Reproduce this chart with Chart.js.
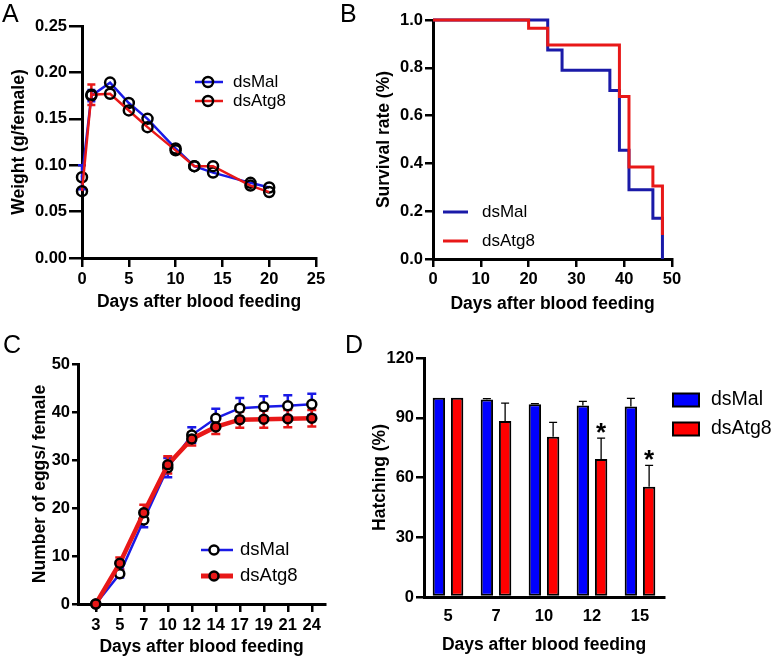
<!DOCTYPE html>
<html><head><meta charset="utf-8">
<script src="https://cdn.jsdelivr.net/npm/chart.js@4.4.0/dist/chart.umd.min.js"></script>
<style>
html,body{margin:0;padding:0;background:#fff;}
#wrap{position:relative;width:772px;height:660px;overflow:hidden;background:#fff;}
canvas{position:absolute;left:0;top:0;}
</style></head><body>
<div id="wrap">
<canvas id="cA" width="772" height="660"></canvas>
<canvas id="cB" width="772" height="660"></canvas>
<canvas id="cC" width="772" height="660"></canvas>
<canvas id="cD" width="772" height="660"></canvas>
</div>
<script>
// ---------- DATA ----------
const seriesNames = ['dsMal', 'dsAtg8'];
// Panel A: weight
const weightDays = [0, 1, 3, 5, 7, 10, 12, 14, 18, 20];
const weightMal = [0.087, 0.175, 0.189, 0.167, 0.150, 0.118, 0.099, 0.092, 0.081, 0.076];
const weightMalErr = [0.013, 0.006, 0, 0, 0, 0, 0, 0, 0, 0];
const weightAtg8 = [0.072, 0.176, 0.177, 0.159, 0.141, 0.116, 0.099, 0.099, 0.078, 0.071];
const weightAtg8Err = [0, 0.011, 0, 0, 0, 0, 0, 0, 0, 0];
// Panel B: survival
const survMalDays = [0, 24, 27, 37, 39, 41, 46, 48];
const survMal = [1.0, 0.875, 0.79, 0.705, 0.455, 0.29, 0.17, 0.0];
const survAtg8Days = [0, 20, 24, 39, 41, 46, 48];
const survAtg8 = [1.0, 0.965, 0.895, 0.68, 0.385, 0.305, 0.10];
// Panel C: eggs
const eggDays = ['3', '5', '7', '10', '12', '14', '17', '19', '21', '24'];
const eggMal = [0, 6.3, 17.5, 28.4, 35.2, 38.7, 40.8, 41.1, 41.3, 41.6];
const eggMalErr = [0, 0.8, 1.5, 2.0, 1.6, 2.0, 2.1, 2.2, 2.2, 2.2];
const eggAtg8 = [0, 8.5, 19.0, 29.0, 34.4, 36.9, 38.4, 38.5, 38.6, 38.7];
const eggAtg8Err = [0, 1.2, 1.7, 1.8, 1.4, 1.5, 1.7, 1.8, 1.8, 1.7];
// Panel D: hatching
const hatchDays = ['5', '7', '10', '12', '15'];
const hatchMal = [100, 99.2, 96.8, 96.2, 95.6];
const hatchMalErr = [0, 0.4, 0.3, 2.0, 4.1];
const hatchAtg8 = [100, 88.4, 80.5, 69.3, 55.4];
const hatchAtg8Err = [0, 8.9, 7.2, 10.5, 10.7];
const hatchSig = ['', '', '', '*', '*'];

// ---------- STYLE ----------
const FONT = "'Liberation Sans', Arial, Helvetica, sans-serif";
const BLUE = '#1a1ae6', RED = '#e81818', NAVY = '#1a1aa8';
const TICK_SIZE = 16.5, TITLE_SIZE = 17.5;
Chart.defaults.font.family = FONT;
Chart.defaults.color = '#000';
Chart.defaults.animation = false;
Chart.defaults.plugins.legend.display = false;
Chart.defaults.plugins.tooltip.enabled = false;

// ---------- PLUGINS ----------
function drawErr(chart, opts) {
  const ctx = chart.ctx, ys = chart.scales.y;
  (opts.sets || []).forEach(s => {
    const meta = chart.getDatasetMeta(s.dataset);
    const vals = chart.data.datasets[s.dataset].data;
    ctx.save();
    ctx.strokeStyle = s.color; ctx.lineWidth = s.width;
    meta.data.forEach((el, i) => {
      const e = s.err[i]; if (!e) return;
      const raw = vals[i];
      const v = (typeof raw === 'object') ? raw.y : raw;
      const x = el.x;
      const yTop = ys.getPixelForValue(v + e);
      const yBot = s.up ? ys.getPixelForValue(v) : ys.getPixelForValue(v - e);
      ctx.beginPath();
      ctx.moveTo(x, yBot); ctx.lineTo(x, yTop);
      ctx.moveTo(x - s.cap, yTop); ctx.lineTo(x + s.cap, yTop);
      if (!s.up) { ctx.moveTo(x - s.cap, yBot); ctx.lineTo(x + s.cap, yBot); }
      ctx.stroke();
    });
    ctx.restore();
  });
  const st = opts.stars;
  if (st) {
    const meta = chart.getDatasetMeta(st.dataset);
    const vals = chart.data.datasets[st.dataset].data;
    ctx.save();
    ctx.fillStyle = '#000';
    ctx.font = 'bold ' + st.size + 'px ' + FONT;
    ctx.textAlign = 'center'; ctx.textBaseline = 'alphabetic';
    meta.data.forEach((el, i) => {
      if (!st.marks[i]) return;
      const y = ys.getPixelForValue(vals[i] + (st.err[i] || 0));
      ctx.fillText(st.marks[i], el.x, y + st.dy);
    });
    ctx.restore();
  }
}
const errorBars = {
  id: 'errorBars',
  beforeDatasetsDraw(chart, args, opts) { if (!opts.front) drawErr(chart, opts); },
  afterDatasetsDraw(chart, args, opts) { if (opts.front) drawErr(chart, opts); }
};
const customLegend = {
  id: 'customLegend',
  afterDraw(chart, args, o) {
    if (!o.items) return;
    const ctx = chart.ctx;
    ctx.save();
    ctx.font = o.fontSize + 'px ' + FONT;
    ctx.textBaseline = 'middle'; ctx.textAlign = 'left';
    o.items.forEach(it => {
      const ds = chart.data.datasets[it.dataset];
      if (o.kind === 'box') {
        ctx.fillStyle = ds.backgroundColor;
        ctx.fillRect(o.x0, it.y - o.h / 2, o.x1 - o.x0, o.h);
        ctx.strokeStyle = '#000'; ctx.lineWidth = 2;
        ctx.strokeRect(o.x0, it.y - o.h / 2, o.x1 - o.x0, o.h);
      } else {
        ctx.strokeStyle = ds.borderColor; ctx.lineWidth = it.lw || ds.borderWidth;
        ctx.beginPath(); ctx.moveTo(o.x0, it.y); ctx.lineTo(o.x1, it.y); ctx.stroke();
        if (o.marker) {
          ctx.beginPath(); ctx.arc(o.mx, it.y, o.r, 0, Math.PI * 2);
          const bg = ds.pointBackgroundColor;
          if (bg && bg !== 'rgba(0,0,0,0)') { ctx.fillStyle = bg; ctx.fill(); }
          ctx.strokeStyle = '#000'; ctx.lineWidth = 2.5; ctx.stroke();
        }
      }
      ctx.fillStyle = '#000';
      ctx.fillText(ds.label, o.tx, it.y);
    });
    ctx.restore();
  }
};
const panelLabel = {
  id: 'panelLabel',
  afterDraw(chart, args, o) {
    if (!o.text) return;
    const ctx = chart.ctx;
    ctx.save();
    ctx.font = '25px ' + FONT; ctx.fillStyle = '#000';
    ctx.textAlign = 'left'; ctx.textBaseline = 'alphabetic';
    ctx.fillText(o.text, o.x, o.y);
    ctx.restore();
  }
};
Chart.register(errorBars, customLegend, panelLabel);

// ---------- LAYOUT HELPERS ----------
const W = 772, H = 660;
function frame(b) {
  const lh = TITLE_SIZE * 1.2;
  const padL = b.yTitleX - lh / 2;
  const padB = H - b.xTitleY - lh / 2;
  return {
    padding: { left: padL, right: W - b.r, top: b.t, bottom: padB },
    yW: b.l - padL,
    xH: (H - padB) - b.b
  };
}
function axis(f, which, o) {
  const isY = which === 'y';
  const a = {
    type: o.type || 'linear',
    position: isY ? 'left' : 'bottom',
    afterFit: s => { if (isY) s.width = f.yW; else s.height = f.xH; },
    border: { display: true, color: '#000', width: 3 },
    grid: { drawOnChartArea: false, drawTicks: o.drawTicks !== false, tickLength: o.tl, color: '#000', lineWidth: 2.5 },
    ticks: { font: { size: TICK_SIZE, weight: 'bold' }, padding: o.pad, color: '#000', maxRotation: 0, autoSkip: false },
    title: { display: true, text: o.title, font: { size: TITLE_SIZE, weight: 'bold' }, padding: 0, color: '#000' }
  };
  if (o.min !== undefined) a.min = o.min;
  if (o.max !== undefined) a.max = o.max;
  if (o.step !== undefined) a.ticks.stepSize = o.step;
  if (o.cb) a.ticks.callback = o.cb;
  if (o.afterBuildTicks) a.afterBuildTicks = o.afterBuildTicks;
  if (o.offset !== undefined) a.offset = o.offset;
  return a;
}

// ---------- PANEL A ----------
const fA = frame({ l: 82, r: 316, t: 26, b: 258, yTitleX: 19, xTitleY: 302 });
new Chart(document.getElementById('cA'), {
  type: 'line',
  data: {
    datasets: [
      { label: seriesNames[1], data: weightDays.map((d, i) => ({ x: d, y: weightAtg8[i] })), borderColor: RED, borderWidth: 2.5,
        pointRadius: 5, pointBorderWidth: 2.5, pointBorderColor: '#000', pointBackgroundColor: 'rgba(0,0,0,0)', clip: false, order: 0 },
      { label: seriesNames[0], data: weightDays.map((d, i) => ({ x: d, y: weightMal[i] })), borderColor: BLUE, borderWidth: 2.5,
        pointRadius: 5, pointBorderWidth: 2.5, pointBorderColor: '#000', pointBackgroundColor: 'rgba(0,0,0,0)', clip: false, order: 1 }
    ]
  },
  options: {
    responsive: false,
    layout: { padding: fA.padding },
    scales: {
      x: axis(fA, 'x', { min: 0, max: 25, step: 5, tl: 9, pad: 3, title: 'Days after blood feeding' }),
      y: axis(fA, 'y', { min: 0, max: 0.25, step: 0.05, tl: 13, pad: 2, title: 'Weight (g/female)', cb: v => v.toFixed(2) })
    },
    plugins: {
      errorBars: { sets: [
        { dataset: 1, err: weightMalErr, color: BLUE, width: 2.5, cap: 4 },
        { dataset: 0, err: weightAtg8Err, color: RED, width: 2.5, cap: 4 }
      ] },
      customLegend: { x0: 195, x1: 223, mx: 208, r: 5, marker: true, tx: 233, fontSize: 17,
        items: [{ dataset: 1, y: 82 }, { dataset: 0, y: 101 }] },
      panelLabel: { text: 'A', x: 2, y: 22 }
    }
  }
});

// ---------- PANEL B ----------
const fB = frame({ l: 433, r: 672, t: 20, b: 259, yTitleX: 384, xTitleY: 304 });
new Chart(document.getElementById('cB'), {
  type: 'line',
  data: {
    datasets: [
      { label: seriesNames[1], data: survAtg8Days.map((d, i) => ({ x: d, y: survAtg8[i] })), borderColor: RED, borderWidth: 3,
        stepped: true, pointRadius: 0, clip: false, order: 0 },
      { label: seriesNames[0], data: survMalDays.map((d, i) => ({ x: d, y: survMal[i] })), borderColor: NAVY, borderWidth: 3,
        stepped: true, pointRadius: 0, clip: false, order: 1 }
    ]
  },
  options: {
    responsive: false,
    layout: { padding: fB.padding },
    scales: {
      x: axis(fB, 'x', { min: 0, max: 50, step: 10, tl: 8, pad: 3, title: 'Days after blood feeding' }),
      y: axis(fB, 'y', { min: 0, max: 1, step: 0.2, tl: 8, pad: 2, title: 'Survival rate (%)', cb: v => v.toFixed(1) })
    },
    plugins: {
      customLegend: { x0: 443, x1: 468, marker: false, tx: 482, fontSize: 17,
        items: [{ dataset: 1, y: 212 }, { dataset: 0, y: 241 }] },
      panelLabel: { text: 'B', x: 340, y: 22 }
    }
  }
});

// ---------- PANEL C ----------
const fC = frame({ l: 78, r: 325, t: 364, b: 604, yTitleX: 40, xTitleY: 647 });
new Chart(document.getElementById('cC'), {
  type: 'line',
  data: {
    datasets: [
      { label: seriesNames[1], data: eggAtg8.map((v, i) => ({ x: i, y: v })), borderColor: RED, borderWidth: 4.5,
        pointRadius: 4.5, pointBorderWidth: 2.5, pointBorderColor: '#000', pointBackgroundColor: RED, clip: false, order: 0 },
      { label: seriesNames[0], data: eggMal.map((v, i) => ({ x: i, y: v })), borderColor: BLUE, borderWidth: 2.5,
        pointRadius: 4.5, pointBorderWidth: 2.5, pointBorderColor: '#000', pointBackgroundColor: '#fff', clip: false, order: 1 }
    ]
  },
  options: {
    responsive: false,
    layout: { padding: fC.padding },
    scales: {
      x: axis(fC, 'x', { min: -0.74, max: 9.55, tl: 8, pad: 4, title: 'Days after blood feeding',
        afterBuildTicks: s => { s.ticks = eggDays.map((d, i) => ({ value: i })); },
        cb: v => eggDays[v] }),
      y: axis(fC, 'y', { min: 0, max: 50, step: 10, tl: 6, pad: 2, title: 'Number of eggs/ female' })
    },
    plugins: {
      errorBars: { sets: [
        { dataset: 1, err: eggMalErr, color: BLUE, width: 2.5, cap: 4.5 },
        { dataset: 0, err: eggAtg8Err, color: RED, width: 2.5, cap: 4.5 }
      ] },
      customLegend: { x0: 201, x1: 233, mx: 214, r: 4.5, marker: true, tx: 240, fontSize: 18.5,
        items: [{ dataset: 1, y: 550 }, { dataset: 0, y: 576, lw: 5 }] },
      panelLabel: { text: 'C', x: 3, y: 353 }
    }
  }
});

// ---------- PANEL D ----------
const fD = frame({ l: 424, r: 664, t: 358, b: 597, yTitleX: 380, xTitleY: 645 });
new Chart(document.getElementById('cD'), {
  type: 'bar',
  data: {
    labels: hatchDays,
    datasets: [
      { label: seriesNames[0], data: hatchMal, backgroundColor: '#0000ff', borderColor: '#000', borderWidth: 2,
        borderSkipped: false, barPercentage: 0.68, categoryPercentage: 0.76 },
      { label: seriesNames[1], data: hatchAtg8, backgroundColor: '#ff0000', borderColor: '#000', borderWidth: 2,
        borderSkipped: false, barPercentage: 0.68, categoryPercentage: 0.76 }
    ]
  },
  options: {
    responsive: false,
    layout: { padding: fD.padding },
    scales: {
      x: axis(fD, 'x', { type: 'category', drawTicks: false, tl: 0, pad: 10, title: 'Days after blood feeding', offset: true }),
      y: axis(fD, 'y', { min: 0, max: 120, step: 30, tl: 8, pad: 2, title: 'Hatching (%)' })
    },
    plugins: {
      errorBars: { front: true, sets: [
        { dataset: 0, err: hatchMalErr, color: '#000', width: 1.3, cap: 4, up: true },
        { dataset: 1, err: hatchAtg8Err, color: '#000', width: 1.3, cap: 4, up: true }
      ], stars: { dataset: 1, marks: hatchSig, err: hatchAtg8Err, size: 26, dy: 3 } },
      customLegend: { kind: 'box', x0: 673, x1: 699, h: 13, tx: 711, fontSize: 19.5,
        items: [{ dataset: 0, y: 400 }, { dataset: 1, y: 429 }] },
      panelLabel: { text: 'D', x: 345, y: 353 }
    }
  }
});
</script>
</body></html>
